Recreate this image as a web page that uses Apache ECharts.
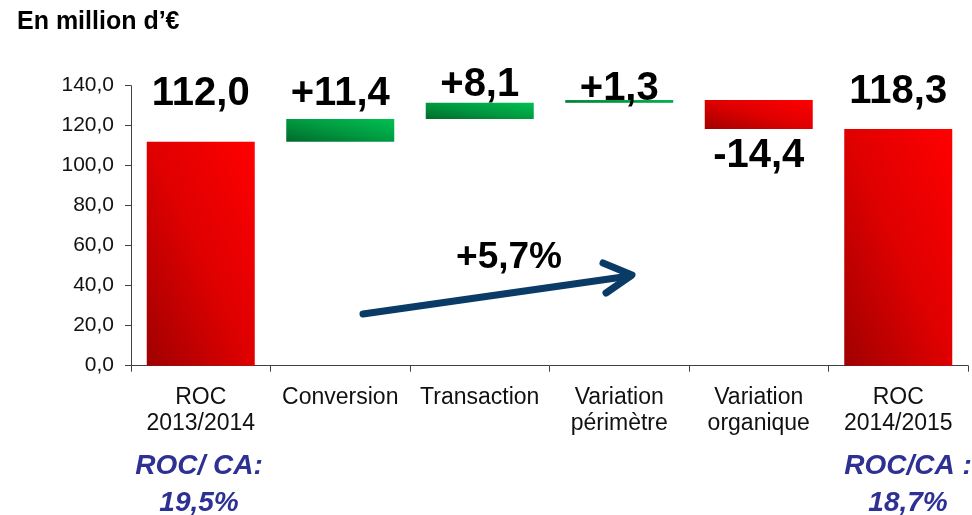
<!DOCTYPE html>
<html>
<head>
<meta charset="utf-8">
<script src="https://cdn.jsdelivr.net/npm/echarts@6/dist/echarts.min.js"></script>
<style>
  html, body { margin: 0; padding: 0; background: #fff; }
  #main { width: 972px; height: 515px; }
</style>
</head>
<body>
<div id="main"></div>
<script>
// données (en millions d'€)
var categories = ['ROC\n2013/2014', 'Conversion', 'Transaction', 'Variation\npérimètre', 'Variation\norganique', 'ROC\n2014/2015'];
var startValue = 112.0;
var changes = [11.4, 8.1, 1.3, -14.4];
var endValue = 118.3;
var yTicks = [0, 20, 40, 60, 80, 100, 120, 140];
var growthLabel = '+5,7%';
var ratioLabels = ['ROC/ CA:\n19,5%', 'ROC/CA :\n18,7%'];

function fr(v) {
  return v.toFixed(1).replace('.', ',');
}

var gridTop = 85.7, gridBottom = 149.3, barW = 108;
var pxPerUnit = (515 - gridTop - gridBottom) / (yTicks[yTicks.length - 1] - yTicks[0]);

// dégradé diagonal façon Office (coin bas-gauche sombre -> coin haut-droit clair)
function grad(value, dark, mid, light) {
  var h = Math.max(value * pxPerUnit, 1), w = barW;
  var s = h * h + w * w;
  var x2 = 2 * h * h / s, y2 = 1 - 2 * w * w / s;
  return new echarts.graphic.LinearGradient(0, 1, x2, y2, [
    { offset: 0, color: dark },
    { offset: 0.5, color: mid },
    { offset: 1, color: light }
  ]);
}
function redFill(v) { return grad(v, '#a00000', '#df0000', '#ff0000'); }
function greenFill(v) { return grad(v, '#006a2c', '#009a40', '#00c052'); }

// décalage vertical des étiquettes (style seulement)
var labelOffset = [-23, 0, 7, 14, 2, -12];

// construction de la cascade
var base = [0];
var bars = [];
var running = startValue;
bars.push({ value: startValue, text: fr(startValue), up: true, color: redFill(startValue) });
changes.forEach(function (c) {
  var next = running + c;
  var a = Math.abs(c);
  base.push(Math.min(running, next));
  bars.push({
    value: a,
    text: (c >= 0 ? '+' : '-') + fr(a),
    up: c >= 0,
    color: c >= 0 ? greenFill(a) : redFill(a)
  });
  running = next;
});
base.push(0);
bars.push({ value: endValue, text: fr(endValue), up: true, color: redFill(endValue) });

var chart = echarts.init(document.getElementById('main'));

var option = {
  animation: false,
  title: {
    text: 'En million d’€',
    left: 12,
    top: 5,
    textStyle: { fontFamily: 'Liberation Sans', fontSize: 25, fontWeight: 'bold', color: '#000' }
  },
  grid: { left: 131, right: 4, top: gridTop, bottom: gridBottom },
  xAxis: {
    type: 'category',
    data: categories,
    axisLine: { lineStyle: { color: '#404040', width: 1 } },
    axisTick: { show: true, length: 6, lineStyle: { color: '#404040' } },
    axisLabel: {
      interval: 0,
      margin: 19,
      fontFamily: 'Liberation Sans',
      fontSize: 23,
      lineHeight: 26,
      color: '#111'
    }
  },
  yAxis: {
    type: 'value',
    min: yTicks[0],
    max: yTicks[yTicks.length - 1],
    interval: 20,
    splitLine: { show: false },
    axisLine: { show: true, lineStyle: { color: '#404040', width: 1 } },
    axisTick: { show: true, length: 6, lineStyle: { color: '#404040' } },
    axisLabel: {
      margin: 17,
      fontFamily: 'Liberation Sans',
      fontSize: 21,
      color: '#111',
      formatter: function (v) { return fr(v); }
    }
  },
  series: [
    {
      type: 'bar',
      stack: 'w',
      barWidth: barW,
      itemStyle: { color: 'transparent' },
      emphasis: { disabled: true },
      data: base
    },
    {
      type: 'bar',
      stack: 'w',
      barWidth: barW,
      data: bars.map(function (b, i) {
        return {
          value: b.value,
          itemStyle: { color: b.color },
          label: {
            show: true,
            position: b.up ? 'top' : 'bottom',
            distance: 5,
            offset: [0, labelOffset[i]],
            formatter: b.text,
            fontFamily: 'Liberation Sans',
            fontSize: 40,
            fontWeight: 'bold',
            color: '#000'
          }
        };
      })
    }
  ],
  graphic: [
    {
      type: 'polyline',
      shape: { points: [[363, 314], [630, 276]] },
      style: { stroke: '#0a3a66', lineWidth: 7, lineCap: 'round', fill: null }
    },
    {
      type: 'polyline',
      shape: { points: [[603, 263], [632, 275], [606, 293]] },
      style: { stroke: '#0a3a66', lineWidth: 7, lineCap: 'round', lineJoin: 'round', fill: null }
    },
    {
      type: 'text',
      x: 509,
      y: 258,
      style: {
        text: growthLabel,
        fontFamily: 'Liberation Sans',
        fontSize: 37,
        fontWeight: 'bold',
        fill: '#000',
        align: 'center',
        verticalAlign: 'middle'
      }
    },
    {
      type: 'text',
      x: 199,
      y: 485,
      style: {
        text: ratioLabels[0],
        fontFamily: 'Liberation Sans',
        fontSize: 28,
        fontWeight: 'bold',
        fontStyle: 'italic',
        lineHeight: 37,
        fill: '#2e3192',
        align: 'center',
        verticalAlign: 'middle'
      }
    },
    {
      type: 'text',
      x: 908,
      y: 485,
      style: {
        text: ratioLabels[1],
        fontFamily: 'Liberation Sans',
        fontSize: 28,
        fontWeight: 'bold',
        fontStyle: 'italic',
        lineHeight: 37,
        fill: '#2e3192',
        align: 'center',
        verticalAlign: 'middle'
      }
    }
  ]
};

chart.setOption(option);
</script>
</body>
</html>
